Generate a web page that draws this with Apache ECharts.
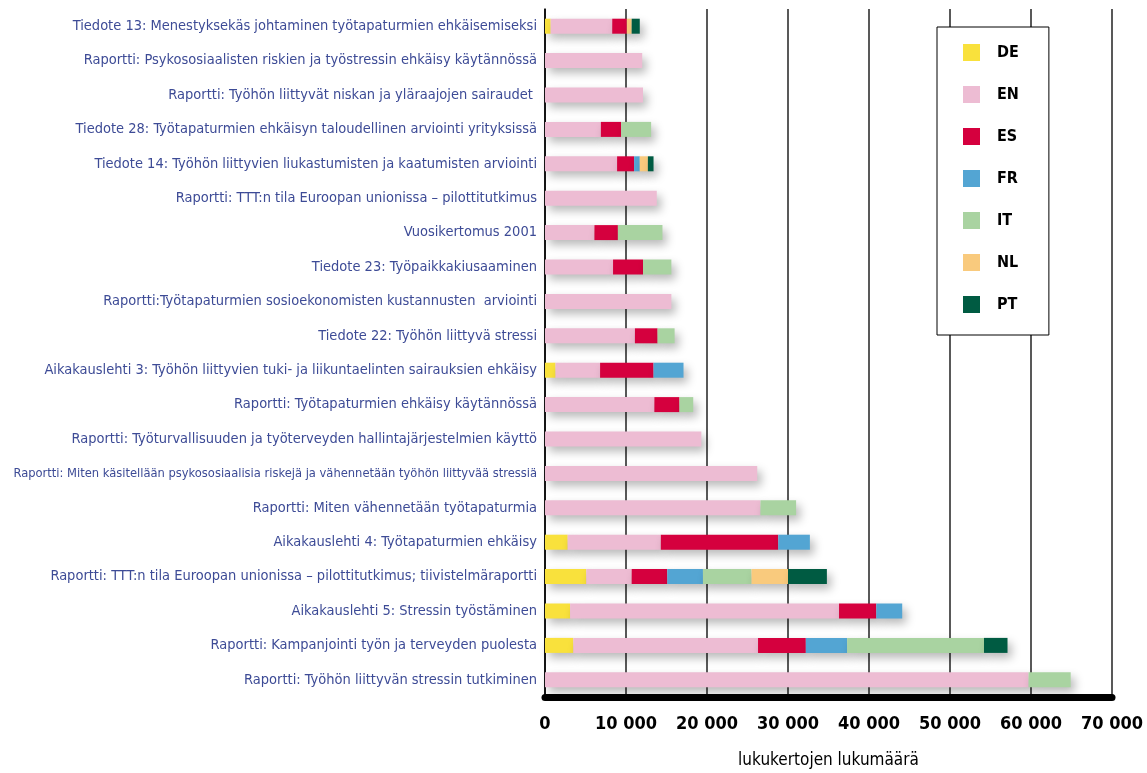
<!DOCTYPE html>
<html>
<head>
<meta charset="utf-8">
<script src="https://cdn.jsdelivr.net/npm/echarts@6/dist/echarts.min.js"></script>
<style>
  html, body { margin: 0; padding: 0; background: #fff; }
  #chart { width: 1147px; height: 773px; }
</style>
</head>
<body>
<div id="chart"></div>
<script>
// julkaisut ylhäältä alas
const categories = [
  "Tiedote 13: Menestyksekäs johtaminen työtapaturmien ehkäisemiseksi",
  "Raportti: Psykososiaalisten riskien ja työstressin ehkäisy käytännössä",
  "Raportti: Työhön liittyvät niskan ja yläraajojen sairaudet ",
  "Tiedote 28: Työtapaturmien ehkäisyn taloudellinen arviointi yrityksissä",
  "Tiedote 14: Työhön liittyvien liukastumisten ja kaatumisten arviointi",
  "Raportti: TTT:n tila Euroopan unionissa – pilottitutkimus",
  "Vuosikertomus 2001",
  "Tiedote 23: Työpaikkakiusaaminen",
  "Raportti:Työtapaturmien sosioekonomisten kustannusten  arviointi",
  "Tiedote 22: Työhön liittyvä stressi",
  "Aikakauslehti 3: Työhön liittyvien tuki- ja liikuntaelinten sairauksien ehkäisy",
  "Raportti: Työtapaturmien ehkäisy käytännössä",
  "Raportti: Työturvallisuuden ja työterveyden hallintajärjestelmien käyttö",
  "Raportti: Miten käsitellään psykososiaalisia riskejä ja vähennetään työhön liittyvää stressiä",
  "Raportti: Miten vähennetään työtapaturmia",
  "Aikakauslehti 4: Työtapaturmien ehkäisy",
  "Raportti: TTT:n tila Euroopan unionissa – pilottitutkimus; tiivistelmäraportti",
  "Aikakauslehti 5: Stressin työstäminen",
  "Raportti: Kampanjointi työn ja terveyden puolesta",
  "Raportti: Työhön liittyvän stressin tutkiminen"
];

const DE = [700, 0, 0, 0, 0, 0, 0, 0, 0, 0, 1300, 0, 0, 0, 0, 2800, 5100, 3100, 3500, 0];
const EN = [7600, 12000, 12100, 6900, 8900, 13800, 6100, 8400, 15600, 11100, 5500, 13500, 19300, 26200, 26600, 11500, 5600, 33200, 22800, 59700];
const ES = [1800, 0, 0, 2500, 2100, 0, 2900, 3700, 0, 2800, 6600, 3100, 0, 0, 0, 14500, 4400, 4600, 5900, 0];
const FR = [0, 0, 0, 0, 700, 0, 0, 0, 0, 0, 3700, 0, 0, 0, 0, 3900, 4400, 3200, 5100, 0];
const IT = [0, 0, 0, 3700, 0, 0, 5500, 3500, 0, 2100, 0, 1700, 0, 0, 4400, 0, 6000, 0, 16900, 5200];
const NL = [600, 0, 0, 0, 1000, 0, 0, 0, 0, 0, 0, 0, 0, 0, 0, 0, 4500, 0, 0, 0];
const PT = [1000, 0, 0, 0, 700, 0, 0, 0, 0, 0, 0, 0, 0, 0, 0, 0, 4800, 0, 2900, 0];

const languages = ["DE", "EN", "ES", "FR", "IT", "NL", "PT"];
const values = [DE, EN, ES, FR, IT, NL, PT];
const colors = ["#f9e13c", "#edbcd3", "#d5003e", "#53a5d3", "#a9d3a1", "#f9ca7d", "#005b42"];

const xTicks = [0, 10000, 20000, 30000, 40000, 50000, 60000, 70000];

const font = "'Liberation Sans Narrow', 'DejaVu Sans Condensed', sans-serif";

let myChart = echarts.init(document.getElementById("chart"));
let option = {
  backgroundColor: "#fff",
  animation: false,
  grid: {
    left: 545,
    right: 35,
    top: 9,
    bottom: 76,
    outerBoundsMode: "none",
    containLabel: false,
  },
  legend: {
    orient: "vertical",
    left: 937,
    top: 27,
    data: languages,
    icon: "rect",
    itemWidth: 17,
    itemHeight: 17,
    itemGap: 25,
    padding: [17, 30, 22, 26],
    backgroundColor: "#fff",
    borderColor: "#000",
    borderWidth: 1,
    textStyle: {
      fontFamily: font,
      fontSize: 16,
      fontWeight: "bold",
      color: "#000",
      padding: [0, 0, 0, 12],
    },
  },
  xAxis: {
    type: "value",
    min: xTicks[0],
    max: xTicks[xTicks.length - 1],
    interval: 10000,
    name: "lukukertojen lukumäärä",
    nameLocation: "middle",
    nameGap: 55,
    nameTextStyle: {
      fontFamily: font,
      fontSize: 17,
      color: "#000",
    },
    axisLine: {
      show: true,
      lineStyle: { color: "#000", width: 7 },
    },
    axisTick: { show: false },
    axisLabel: {
      margin: 18,
      fontFamily: font,
      fontSize: 18,
      fontWeight: "bold",
      color: "#000",
      formatter: function (v) {
        return v === 0 ? "0" : (v / 1000) + " 000";
      },
    },
    splitLine: {
      show: true,
      lineStyle: { color: "#222", width: 1.5 },
    },
  },
  yAxis: {
    type: "category",
    inverse: true,
    data: categories.map(function (c) {
      return c.length > 85 ? { value: c, textStyle: { fontSize: 12.8 } } : c;
    }),
    axisLine: {
      show: true,
      lineStyle: { color: "#000", width: 1.5 },
    },
    axisTick: { show: false },
    axisLabel: {
      margin: 8,
      fontFamily: font,
      fontSize: 14.5,
      color: "#3d4b96",
    },
  },
  series: languages.map(function (lang, i) {
    return {
      name: lang,
      type: "bar",
      stack: "total",
      barWidth: 15,
      data: values[i].map(function (v) { return v === 0 ? "-" : v; }),
      itemStyle: {
        color: colors[i],
        shadowColor: "rgba(0, 0, 0, 0.28)",
        shadowBlur: 10,
        shadowOffsetX: 4,
        shadowOffsetY: 5,
      },
    };
  }),
};
myChart.setOption(option);
</script>
</body>
</html>
